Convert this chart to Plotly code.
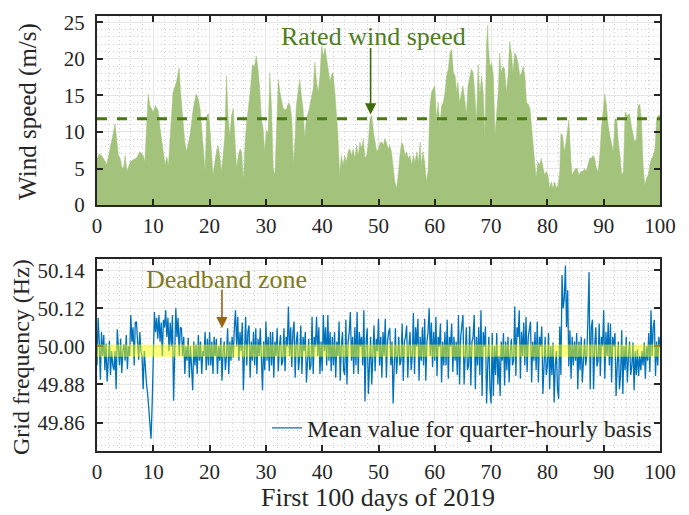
import numpy as np
import plotly.graph_objects as go
from plotly.subplots import make_subplots

# ---------------- data ----------------
wind_day = [0, 0.4, 0.8, 1.3, 1.7, 2.0, 2.3, 2.8, 3.2, 3.5, 3.8, 4.1, 4.4, 4.7, 5.0, 5.3, 5.9, 6.4, 7.0, 7.6,
            8.2, 8.5, 8.8, 9.1, 9.4, 10.0, 10.4, 10.9, 11.2, 11.5, 11.8, 12.1, 12.4, 12.7, 13.0, 13.5, 14.1, 14.6, 14.8, 15.3,
            15.6, 15.9, 16.5, 17.1, 17.6, 18.0, 18.3, 18.9, 19.2, 19.5, 19.8, 20.1, 20.4, 20.6, 21.2, 21.5, 21.8, 22.1, 22.4, 22.7,
            23.0, 23.3, 23.6, 23.9, 24.2, 24.5, 24.8, 25.1, 25.4, 25.7, 26.0, 26.3, 26.6, 27.2, 27.6, 28.0, 28.3, 28.6, 28.9, 29.2,
            29.5, 29.8, 30.1, 30.4, 30.7, 31.0, 31.3, 31.6, 31.9, 32.2, 32.5, 32.8, 33.1, 33.4, 33.7, 34.0, 34.3, 34.6, 34.9, 35.2,
            35.4, 35.7, 36.0, 36.3, 36.6, 36.9, 37.2, 37.7, 38.4, 38.7, 39.0, 39.3, 39.6, 39.9, 40.2, 40.5, 40.8, 41.1, 41.4, 41.6,
            41.9, 42.2, 42.5, 42.8, 43.1, 43.4, 43.7, 44.0, 44.3, 44.6, 44.9, 45.2, 45.5, 45.8, 46.1, 46.4, 46.7, 47.0, 47.3, 47.6,
            47.9, 48.2, 48.5, 48.8, 49.1, 49.4, 49.7, 50.0, 50.3, 50.6, 50.9, 51.1, 51.4, 51.7, 52.0, 52.3, 52.6, 52.9, 53.2, 53.5,
            53.8, 54.1, 54.4, 54.7, 55.0, 55.3, 55.6, 55.9, 56.2, 56.5, 56.8, 57.1, 57.4, 57.6, 57.9, 58.2, 58.5, 58.8, 59.1, 59.4,
            59.7, 60.0, 60.3, 60.6, 60.9, 61.2, 61.5, 61.8, 62.1, 62.4, 62.7, 63.0, 63.3, 63.6, 63.9, 64.1, 64.4, 64.7, 65.0, 65.3,
            65.6, 65.9, 66.2, 66.5, 66.8, 67.1, 67.4, 67.7, 68.0, 68.3, 68.6, 68.9, 69.2, 69.4, 69.5, 69.8, 70.1, 70.4, 70.7, 71.0,
            71.3, 71.5, 71.8, 72.1, 72.4, 72.7, 73.0, 73.3, 73.6, 73.9, 74.2, 74.5, 74.8, 75.1, 75.4, 75.7, 76.0, 76.3, 76.6, 76.9,
            77.2, 77.5, 77.8, 78.0, 78.3, 78.6, 78.9, 79.2, 79.5, 79.8, 80.1, 80.4, 80.7, 81.0, 81.3, 81.6, 81.9, 82.2, 82.4, 82.7,
            83.0, 83.3, 83.6, 83.8, 84.2, 84.4, 84.7, 85.0, 85.3, 85.6, 85.9, 86.3, 86.6, 86.9, 87.2, 87.5, 87.8, 88.1, 88.4, 88.7,
            89.0, 89.3, 89.6, 89.9, 90.2, 90.5, 90.8, 91.1, 91.4, 91.7, 92.0, 92.3, 92.6, 92.9, 93.2, 93.5, 93.8, 94.1, 94.3, 94.6,
            94.9, 95.2, 95.5, 95.8, 96.1, 96.4, 96.7, 97.0, 97.3, 97.6, 97.9, 98.2, 98.5, 98.8, 99.1, 99.4, 99.7, 100]
wind_speed = [6.4, 7.0, 6.8, 6.2, 5.5, 6.5, 7.5, 9.5, 11.1, 8.5, 6.8, 6.4, 5.2, 5.0, 6.8, 4.6, 5.9, 6.2, 6.4, 7.3,
              6.8, 5.9, 11.8, 15.2, 13.6, 12.7, 13.6, 12.9, 10.5, 8.6, 6.8, 5.5, 6.6, 5.5, 9.5, 15.4, 16.8, 18.8, 15.9, 11.8,
              8.6, 7.3, 9.5, 13.2, 15.2, 14.5, 13.2, 7.7, 4.6, 12.3, 12.5, 10.0, 5.9, 4.1, 7.3, 8.2, 6.8, 4.6, 6.8, 9.5,
              17.7, 11.8, 9.5, 12.3, 13.2, 9.5, 5.0, 6.8, 7.7, 7.3, 3.2, 8.6, 11.4, 15.4, 19.2, 19.0, 20.4, 18.6, 15.9, 11.8,
              10.5, 7.3, 10.2, 10.0, 18.1, 13.2, 5.0, 4.1, 9.5, 17.2, 15.4, 14.0, 13.2, 13.0, 13.2, 14.0, 13.6, 11.8, 5.5, 9.5,
              13.6, 15.4, 17.2, 15.0, 13.2, 9.1, 11.8, 13.2, 15.9, 19.5, 16.8, 15.4, 17.7, 21.7, 20.4, 21.5, 19.9, 18.6, 16.8, 17.7,
              18.1, 15.9, 13.2, 9.5, 4.1, 6.8, 5.5, 6.8, 5.9, 7.3, 7.7, 6.8, 7.7, 6.4, 8.2, 6.8, 8.6, 7.7, 9.1, 6.4,
              6.8, 8.6, 11.8, 12.3, 10.0, 8.6, 7.3, 7.7, 8.6, 8.6, 8.2, 9.1, 8.6, 7.7, 8.2, 7.3, 5.5, 3.2, 2.3, 4.1,
              6.8, 8.6, 8.2, 6.8, 7.3, 6.4, 6.8, 5.5, 6.8, 5.9, 7.3, 5.9, 8.6, 5.5, 7.3, 5.9, 3.2, 4.6, 13.2, 15.4,
              15.9, 16.3, 11.8, 14.0, 10.9, 13.6, 14.0, 15.4, 17.7, 18.6, 20.8, 21.3, 18.1, 17.7, 15.4, 16.8, 14.0, 15.4, 16.3, 14.5,
              12.3, 16.3, 17.7, 18.6, 18.1, 15.4, 11.4, 19.2, 15.0, 17.7, 15.4, 9.5, 22.2, 24.6, 21.7, 19.0, 19.4, 17.7, 9.5, 13.2,
              15.9, 20.8, 18.1, 19.0, 18.6, 15.4, 17.7, 22.4, 20.8, 18.1, 20.8, 20.4, 19.4, 17.7, 18.1, 19.0, 17.7, 14.0, 13.8, 13.2,
              10.5, 8.2, 5.0, 3.7, 5.9, 5.5, 6.4, 5.0, 4.1, 4.6, 4.1, 2.3, 3.2, 2.3, 3.2, 2.3, 2.8, 4.6, 9.8, 9.5,
              7.3, 8.6, 10.5, 11.6, 5.9, 4.1, 4.6, 5.0, 5.0, 4.1, 4.6, 4.6, 5.0, 4.6, 5.5, 6.4, 6.4, 6.8, 6.4, 5.0,
              4.6, 6.8, 10.5, 13.2, 15.2, 13.6, 10.9, 9.5, 8.2, 7.3, 11.8, 11.8, 8.6, 6.8, 4.1, 4.6, 12.7, 12.3, 12.3, 12.5,
              10.9, 9.5, 8.6, 9.1, 13.6, 13.8, 11.8, 5.5, 2.6, 3.7, 4.1, 5.5, 6.4, 6.8, 7.7, 11.8, 12.3, 12.3]
rated_wind_speed = 11.8

# grid-frequency trace, plotted on the chart's own (evenly spaced) axis units, 5 samples per day
freq_dev = [
    -20, 30, 5, -35, 15,   -10, 12, -25, 3, -37,   -15, 6, -30, -5, -20,   -25, -5, -45, 18, -10,   -20, 8, -28, -5, 2,
    -15, 12, -24, 0, -10,  33, 5, 20, -20, 25,     26, 10, -14, 15, -5,    -10, -45, -5, -30, -40,  -50, -70, -90, -97, -60,
    0, 36, 15, 30, 8,      33, 5, 25, -10, 28,     20, 38, 10, 30, -5,     25, 0, 33, -57, 15,      40, 10, 30, -10, 20,
    19, -10, 10, -29, 0,   -15, 9, -33, 0, -20,    -46, 5, -20, 2, -29,    12, -15, 5, -29, -5,     -10, 15, -25, 8, -20,
    15, -20, 5, -29, 10,   -10, 8, -29, 0, -15,    9, -36, -5, 5, -25,     -10, 19, -29, 5, -15,    10, -12, 20, 38, 0,
    31, -15, 15, -5, 25,   -46, 10, 31, -20, 15,   22, -33, 5, -15, 15,    -20, 19, -29, 8, -10,    19, -10, -46, 5, -25,
    26, -15, 10, -26, 15,  -20, 15, -33, 5, -10,   19, -26, 0, 12, -20,    -15, 19, -26, 10, 0,     42, -10, 20, -22, 15,
    26, -33, 5, 15, -25,   -10, 22, -29, 10, -5,   15, -38, -10, 8, -25,    -20, 31, -29, 10, 0,     31, -10, 20, -29, 5,
    -26, 33, -5, 20, -20,  33, -15, 15, -26, 10,   -20, 15, -33, 5, -10,   26, -36, 0, 15, -25,     -30, 28, -40, 5, 15,
    36, -15, 10, -29, 20,  -20, 36, -29, 15, 0,    10, -20, 38, -58, 5,    19, -50, -10, 10, -40,   -15, 22, -26, 8, -5,
    29, -20, 10, -33, 15,  -10, 29, -33, 5, 15,    19, -20, 5, -60, -10,   19, -29, 0, 10, -20,     -15, 24, -36, 5, 10,
    22, -33, 0, 15, -25,   -10, 35, -29, 20, 0,    29, -36, 10, -15, 20,   -20, 29, -36, 5, 15,     40, -10, 25, -22, 15,
    -15, 31, -31, 10, 0,   24, -38, 5, -20, 15,    -20, 28, -34, 10, 0,    24, -27, 10, -15, 5,     -30, 33, -40, 10, 20,
    33, -40, 0, 20, -25,   -20, 21, -41, 5, 10,    33, -45, 10, -20, 20,   -30, 38, -52, 15, 0,     21, -60, -20, 10, -45,
    -60, 14, -52, 0, -30,  14, -40, -10, -52, 5,   -15, 14, -41, 5, -25,   10, -38, -5, 8, -20,     -15, 42, -31, 20, 10,
    38, -34, 15, -10, 25,  -20, 31, -27, 10, 20,   26, -38, 5, -15, 15,    -25, 26, -38, 10, 0,     21, -50, -10, 10, -30,
    -20, 14, -45, 0, -30,  4, -59, -20, -5, -45,   -55, 21, -30, 75, 40,   50, 85, 20, 59, -21,     17, -34, 10, -20, 5,
    -15, 14, -45, 5, -25,  10, -38, -5, 8, -20,    -10, 30, 78, -45, 20,   28, -45, 0, 20, -21,     -15, 24, -31, 10, 0,
    38, -34, 15, -10, 25,  -20, 24, -38, 10, 0,    14, -52, -20, 5, -45,   -30, 17, -50, 0, -25,    10, -38, -10, 5, -30,
    -20, 4, -46, -5, -30,  -3, -31, -10, -25, -5,  -20, 4, -34, 0, -15,    14, -27, 38, -10, 20,    28, -31, 5, -20, 10,
    0]
freq_day = np.linspace(0, 100, len(freq_dev))

freq_tickvals = [-80, -40, 0, 40, 80]
freq_ticktext = ["49.86", "49.88", "50.00", "50.12", "50.14"]
deadband = [-11, 2]

# ---------------- figure ----------------
FONT = "Liberation Serif"
W, H = 689, 515
ML, MR, MT, MB = 97, 29, 10, 64
ph = H - MT - MB
pw = W - ML - MR

def py2paper(y):
    return (H - MB - y) / ph

def px2paper(x):
    return (x - ML) / pw

fig = make_subplots(rows=2, cols=1, vertical_spacing=0.1)

fill_col = "#a3c27b"
fig.add_trace(go.Scatter(x=wind_day, y=wind_speed, mode="lines", fill="tozeroy",
                         line=dict(color=fill_col, width=0.5), fillcolor=fill_col,
                         showlegend=False, hoverinfo="skip"), row=1, col=1)
fig.add_trace(go.Scatter(x=[0, 100], y=[rated_wind_speed, rated_wind_speed], mode="lines",
                         line=dict(color="#4a7a12", width=3, dash="10px,10px"),
                         showlegend=False), row=1, col=1)

fig.add_trace(go.Scatter(x=freq_day, y=freq_dev, mode="lines",
                         line=dict(color="#0072BD", width=1.3),
                         name="Mean value for quarter-hourly basis"), row=2, col=1)

fig.add_shape(type="rect", xref="x2", yref="y2", x0=0, x1=100, y0=deadband[0], y1=deadband[1],
              fillcolor="rgba(255,255,0,0.5)", line=dict(width=0), layer="above")

minor_style = dict(showgrid=True, gridcolor="#cfcfcf", griddash="1px,3px", gridwidth=1)

axis_common = dict(showline=True, linecolor="#262626", linewidth=2, mirror="allticks",
                   ticks="inside", ticklen=6, tickcolor="#262626", tickwidth=1.5,
                   showgrid=True, gridcolor="#e6e6e6", gridwidth=1, zeroline=False,
                   tickfont=dict(family=FONT, size=21, color="#262626"))

fig.update_xaxes(range=[0, 100], dtick=10, tick0=0, ticklabelstandoff=1,
                 minor=dict(dtick=2, **minor_style), **axis_common)
fig.update_yaxes(row=1, col=1, range=[0, 25.9], dtick=5, tick0=0, ticklabelstandoff=6,
                 minor=dict(dtick=1, **minor_style), **axis_common)
fig.update_yaxes(row=2, col=1, range=[-109.6, 91.9], tickvals=freq_tickvals, ticktext=freq_ticktext,
                 ticklabelstandoff=6,
                 minor=dict(tickvals=list(range(-104, 92, 8)), **minor_style), **axis_common)

fig.update_layout(
    width=W, height=H, margin=dict(l=ML, r=MR, t=MT, b=MB),
    paper_bgcolor="white", plot_bgcolor="white",
    font=dict(family=FONT, color="#262626"),
    xaxis=dict(domain=[0, 1]), xaxis2=dict(domain=[0, 1]),
    yaxis=dict(domain=[py2paper(202.3), py2paper(10.7)]),
    yaxis2=dict(domain=[py2paper(450.7), py2paper(256.7)]),
    showlegend=True,
    legend=dict(x=px2paper(657), xanchor="right", y=py2paper(428), yanchor="middle",
                bgcolor="rgba(0,0,0,0)", font=dict(family=FONT, size=24, color="#262626"),
                itemwidth=30),
)

ann = []
# axis titles
ann.append(dict(text="Wind speed (m/s)", xref="paper", yref="paper", x=px2paper(28), y=py2paper(108),
                textangle=-90, showarrow=False, xanchor="center", yanchor="middle",
                font=dict(family=FONT, size=25, color="#262626")))
ann.append(dict(text="Grid frequency (Hz)", xref="paper", yref="paper", x=px2paper(21), y=py2paper(356),
                textangle=-90, showarrow=False, xanchor="center", yanchor="middle",
                font=dict(family=FONT, size=24, color="#262626")))
ann.append(dict(text="First 100 days of 2019", xref="paper", yref="paper", x=px2paper(378), y=py2paper(498),
                showarrow=False, xanchor="center", yanchor="middle",
                font=dict(family=FONT, size=26, color="#262626")))
# rated wind speed
ann.append(dict(text="Rated wind speed", xref="paper", yref="paper", x=px2paper(373), y=py2paper(32),
                showarrow=False, xanchor="center", yanchor="middle",
                font=dict(family=FONT, size=26, color="#4e7d1e")))
ann.append(dict(text="", xref="x", yref="y", x=48.6, y=12.4, ax=0, ay=-68,
                showarrow=True, arrowhead=2, arrowsize=1.4, arrowwidth=1.6, arrowcolor="#3d6a0a"))
# deadband
ann.append(dict(text="Deadband zone", xref="paper", yref="paper", x=px2paper(226), y=py2paper(278),
                showarrow=False, xanchor="center", yanchor="middle",
                font=dict(family=FONT, size=26, color="#7f7a1f")))
ann.append(dict(text="", xref="x2", yref="y2", x=22.2, y=19, ax=0, ay=-40,
                showarrow=True, arrowhead=2, arrowsize=1.4, arrowwidth=1.6, arrowcolor="#996515"))
fig.update_layout(annotations=ann)

fig.write_html("out.html")
